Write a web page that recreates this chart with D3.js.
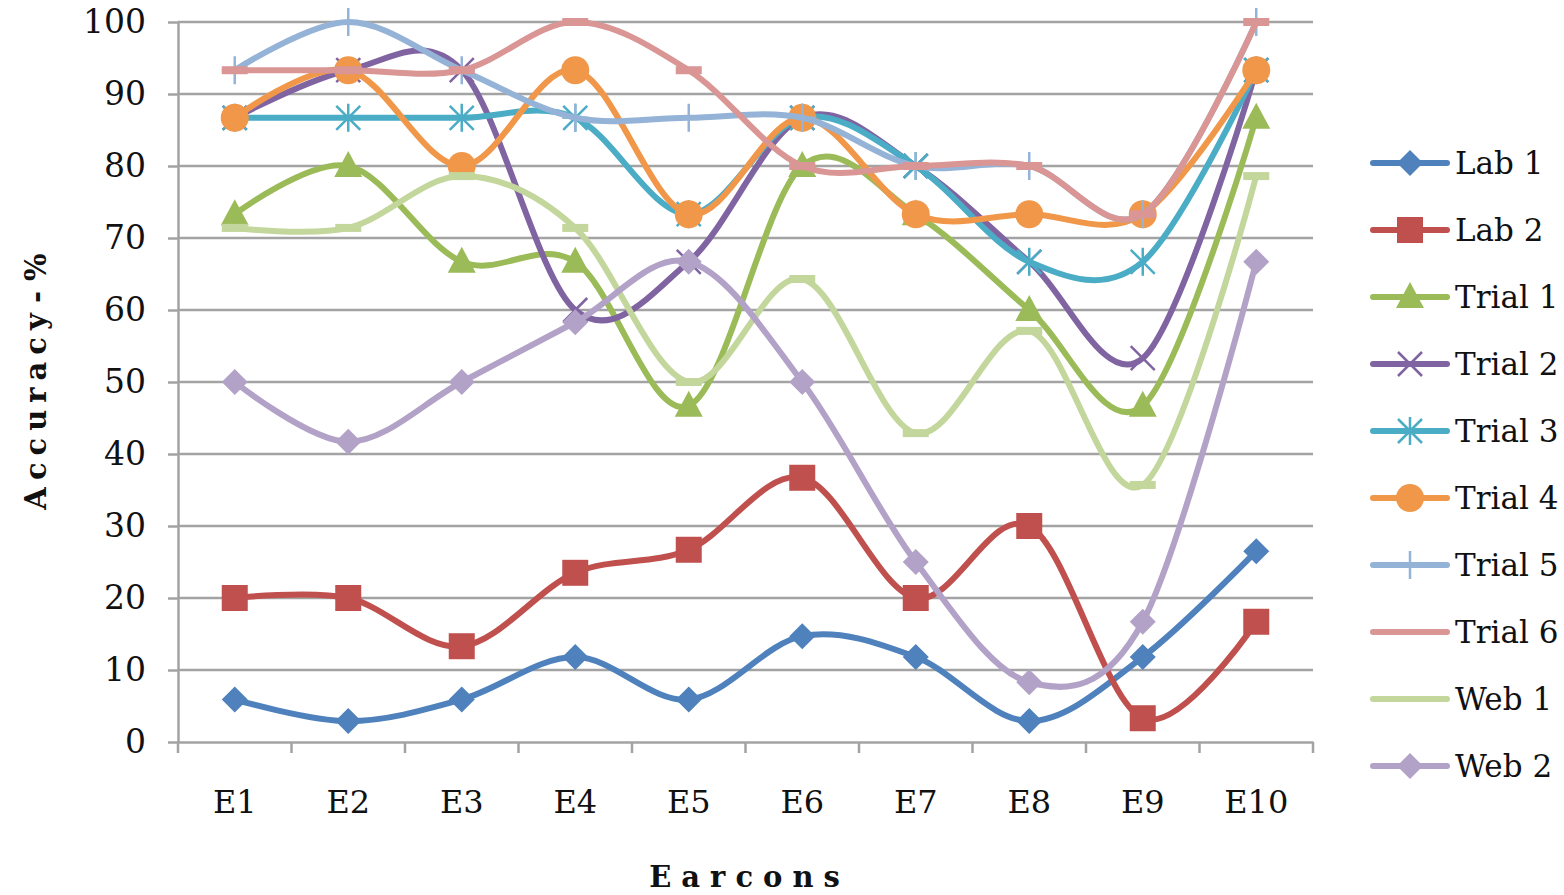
<!DOCTYPE html>
<html>
<head>
<meta charset="utf-8">
<script src="https://cdn.jsdelivr.net/npm/d3@7"></script>
<style>
  html, body { margin: 0; padding: 0; background: #fff; }
  svg { display: block; }
  text { font-family: "DejaVu Serif", "Liberation Serif", serif; fill: #111; }
</style>
</head>
<body>
<svg id="chart" width="1564" height="895"></svg>
<script>
// Earcon identification accuracy per test group
const categories = ["E1", "E2", "E3", "E4", "E5", "E6", "E7", "E8", "E9", "E10"];
const yTicks = [0, 10, 20, 30, 40, 50, 60, 70, 80, 90, 100];

const lab1   = [5.9, 2.9, 5.9, 11.8, 5.9, 14.7, 11.8, 2.9, 11.8, 26.5];
const lab2   = [20, 20, 13.3, 23.5, 26.7, 36.7, 20, 30, 3.3, 16.7];
const trial1 = [73.3, 80, 66.7, 66.7, 46.7, 80, 73.3, 60, 46.7, 86.7];
const trial2 = [86.7, 93.3, 93.3, 60, 66.7, 86.7, 80, 66.7, 53.3, 93.3];
const trial3 = [86.7, 86.7, 86.7, 86.7, 73.3, 86.7, 80, 66.7, 66.7, 93.3];
const trial4 = [86.7, 93.3, 80, 93.3, 73.3, 86.7, 73.3, 73.3, 73.3, 93.3];
const trial5 = [93.3, 100, 93.3, 86.7, 86.7, 86.7, 80, 80, 73.3, 100];
const trial6 = [93.3, 93.3, 93.3, 100, 93.3, 80, 80, 80, 73.3, 100];
const web1   = [71.4, 71.4, 78.6, 71.4, 50, 64.3, 42.9, 57.1, 35.7, 78.6];
const web2   = [50, 41.7, 50, 58.3, 66.7, 50, 25, 8.3, 16.7, 66.7];

const seriesNames = ["Lab 1", "Lab 2", "Trial 1", "Trial 2", "Trial 3", "Trial 4", "Trial 5", "Trial 6", "Web 1", "Web 2"];
const seriesValues = [lab1, lab2, trial1, trial2, trial3, trial4, trial5, trial6, web1, web2];
const seriesColors = ["#4f81bd", "#c0504d", "#9bbb59", "#8064a2", "#4bacc6", "#f0974a", "#95b3d7", "#d99694", "#c3d69b", "#b3a2c7"];
const seriesMarkers = ["diamond", "square", "triangle", "x", "star", "circle", "plus", "dash", "dash", "diamond"];

const svg = d3.select("#chart");
const plot = { left: 178, right: 1313, top: 22, bottom: 742 };

const x = d3.scaleBand().domain(categories).range([plot.left, plot.right]);
const y = d3.scaleLinear().domain([0, 100]).range([plot.bottom, plot.top]);
const cx = d => x(d) + x.bandwidth() / 2;

const gridColor = "#a3a3a3";

// horizontal gridlines
svg.append("g")
  .selectAll("line")
  .data(yTicks.filter(t => t > 0))
  .join("line")
  .attr("x1", plot.left).attr("x2", plot.right)
  .attr("y1", d => y(d)).attr("y2", d => y(d))
  .attr("stroke", gridColor).attr("stroke-width", 2.5);

// y axis
const yAxis = svg.append("g")
  .attr("transform", `translate(${plot.left},0)`)
  .call(d3.axisLeft(y).tickValues(yTicks).tickSize(10).tickPadding(22).tickSizeOuter(0));
yAxis.select(".domain").attr("stroke", gridColor).attr("stroke-width", 2.5);
yAxis.selectAll(".tick line").attr("stroke", gridColor).attr("stroke-width", 2.5);
yAxis.selectAll(".tick text")
  .attr("font-family", "DejaVu Serif").attr("font-size", 33).attr("fill", "#111");

// x axis: ticks at category boundaries
const xAxis = svg.append("g")
  .attr("transform", `translate(0,${plot.bottom})`)
  .call(d3.axisBottom(x).tickSize(0).tickPadding(48));
xAxis.select(".domain").attr("stroke", gridColor).attr("stroke-width", 2.5);
xAxis.selectAll(".tick text")
  .attr("font-family", "DejaVu Serif").attr("font-size", 32).attr("fill", "#111");
xAxis.selectAll(".boundary")
  .data(d3.range(categories.length + 1))
  .join("line")
  .attr("class", "boundary")
  .attr("x1", i => plot.left + i * x.bandwidth())
  .attr("x2", i => plot.left + i * x.bandwidth())
  .attr("y1", 0).attr("y2", 11)
  .attr("stroke", gridColor).attr("stroke-width", 2.5);

// axis titles
svg.append("text")
  .attr("x", (plot.left + plot.right) / 2 + 4).attr("y", 887)
  .attr("text-anchor", "middle")
  .attr("font-size", 29).attr("font-weight", "bold")
  .attr("letter-spacing", 10)
  .text("Earcons");

svg.append("text")
  .attr("transform", `translate(46,${(plot.top + plot.bottom) / 2 - 4}) rotate(-90)`)
  .attr("text-anchor", "middle")
  .attr("font-size", 29).attr("font-weight", "bold")
  .attr("letter-spacing", 7)
  .attr("word-spacing", -14)
  .text("Accuracy - %");

// marker shapes
function drawMarker(g, type, color) {
  switch (type) {
    case "diamond":
      g.append("path").attr("d", "M0,-13L13,0L0,13L-13,0Z").attr("fill", color);
      break;
    case "square":
      g.append("rect").attr("x", -13).attr("y", -13).attr("width", 26).attr("height", 26).attr("fill", color);
      break;
    case "triangle":
      g.append("path").attr("d", "M0,-15L14,11L-14,11Z").attr("fill", color);
      break;
    case "circle":
      g.append("circle").attr("r", 14).attr("fill", color);
      break;
    case "x":
      g.append("path").attr("d", "M-12,-12L12,12M-12,12L12,-12")
        .attr("stroke", color).attr("stroke-width", 2.5).attr("fill", "none");
      break;
    case "star":
      g.append("path").attr("d", "M-12,-12L12,12M-12,12L12,-12M0,-14L0,14")
        .attr("stroke", color).attr("stroke-width", 2.5).attr("fill", "none");
      break;
    case "plus":
      g.append("path").attr("d", "M-13,0L13,0M0,-14L0,14")
        .attr("stroke", color).attr("stroke-width", 2.5).attr("fill", "none");
      break;
    case "dash":
      g.append("rect").attr("x", -13).attr("y", -4).attr("width", 26).attr("height", 8).attr("fill", color);
      break;
  }
}

const line = d3.line()
  .x((d, i) => cx(categories[i]))
  .y(d => y(d))
  .curve(d3.curveCardinal.tension(0));

const series = svg.append("g").selectAll("g")
  .data(seriesValues.map((v, i) => ({ name: seriesNames[i], values: v, color: seriesColors[i], marker: seriesMarkers[i] })))
  .join("g");

series.append("path")
  .attr("d", d => line(d.values))
  .attr("fill", "none")
  .attr("stroke", d => d.color)
  .attr("stroke-width", 6)
  .attr("stroke-linecap", "round")
  .attr("stroke-linejoin", "round");

series.each(function (s) {
  const g = d3.select(this);
  s.values.forEach((v, i) => {
    const m = g.append("g").attr("transform", `translate(${cx(categories[i])},${y(v)})`);
    drawMarker(m, s.marker, s.color);
  });
});

// legend
const legend = svg.append("g");
seriesNames.forEach((name, i) => {
  const yy = 163 + i * 67;
  const c = seriesColors[i];
  legend.append("line")
    .attr("x1", 1373).attr("x2", 1447).attr("y1", yy).attr("y2", yy)
    .attr("stroke", c).attr("stroke-width", 6).attr("stroke-linecap", "round");
  if (seriesMarkers[i] !== "dash") {
    drawMarker(legend.append("g").attr("transform", `translate(1410,${yy})`), seriesMarkers[i], c);
  }
  legend.append("text")
    .attr("x", 1455).attr("y", yy + 11)
    .attr("font-size", 31)
    .text(name);
});
</script>
</body>
</html>
